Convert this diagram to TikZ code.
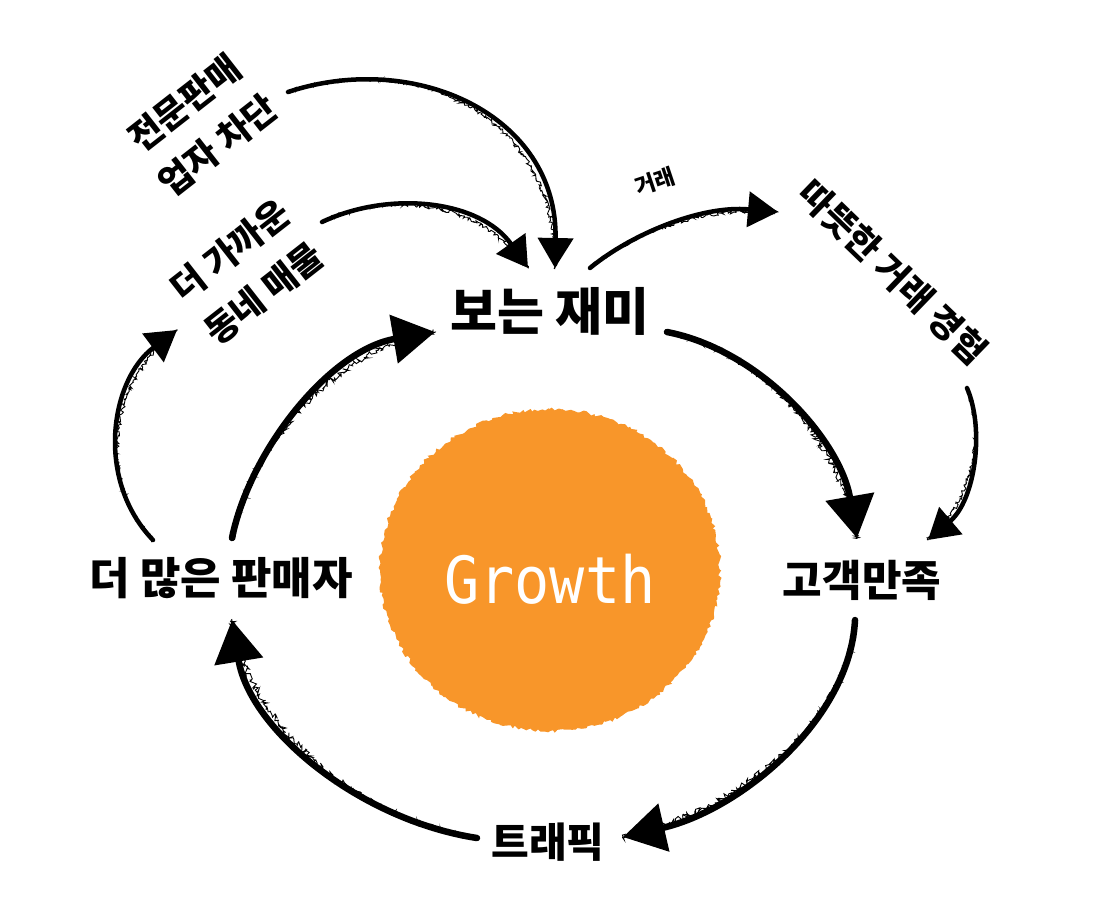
\documentclass[tikz,border=0pt]{standalone}
\usepackage{fontspec}
\newfontfamily\kr{Noto Sans CJK KR}
\newfontfamily\growthfont[FakeStretch=0.9]{DejaVu Sans Mono}
\usetikzlibrary{arrows.meta,decorations.pathmorphing,shapes.geometric}
\definecolor{growthorange}{RGB}{248,150,42}
\tikzset{
  mainlbl/.style={font=\kr\bfseries\fontsize{43}{50}\selectfont, inner sep=0pt},
  sidelbl/.style={font=\kr\bfseries\fontsize{35.5}{54}\selectfont, align=center, inner sep=0pt},
  rough/.style={postaction={draw, -, line width=0.9pt, decorate,
      decoration={random steps, segment length=1.4pt, amplitude=#1}}},
  thinarrow/.style={line width=4.5pt, line cap=round,
      -{Triangle[length=30pt,width=35pt]}, rough=1.9pt},
  thickarrow/.style={line width=6.5pt, line cap=round,
      -{Triangle[length=42pt,width=48pt]}, rough=2.9pt},
}
\begin{document}
\begin{tikzpicture}[x=1pt,y=-1pt]
\pgfmathsetseed{12}
\fill[white] (0,0) rectangle (1094,916);
\useasboundingbox (0,0) rectangle (1094,916);

% central circle
\node[ellipse, fill=growthorange, minimum width=340pt, minimum height=322pt,
      inner sep=0pt, decorate,
      decoration={random steps, segment length=3pt, amplitude=1.8pt}]
      (grow) at (550,570) {};
\node[font=\growthfont\fontsize{65}{70}\selectfont, text=white, inner sep=0pt]
      (growtxt) at (550,579) {Growth};

% labels
\node[mainlbl, font=\kr\bfseries\fontsize{51}{58}\selectfont] (bojae) at (550,311) {보는 재미};
\node[mainlbl] (gogaek) at (862,580) {고객만족};
\node[mainlbl, font=\kr\bfseries\fontsize{41}{48}\selectfont] (traffic) at (548,842) {트래픽};
\node[mainlbl, font=\kr\bfseries\fontsize{44}{50}\selectfont] (seller) at (221,578) {더 많은 판매자};
\node[sidelbl, rotate=38] (block) at (201,124) {전문판매\\업자 차단};
\node[sidelbl, rotate=38] (near) at (247,272) {더 가까운\\동네 매물};
\node[sidelbl, rotate=-44] (warm) at (893,272) {따뜻한 거래 경험};

% connectors
\draw[thinarrow] ([shift={(87,-32)}]block.center)
   .. controls (415,50) and (558,115) .. ([shift={(5,-43)}]bojae.center);
\draw[thinarrow] ([shift={(75,-50)}]near.center)
   .. controls (390,190) and (480,200) .. ([shift={(-22,-43)}]bojae.center);
\draw[thinarrow] ([shift={(40,-43)}]bojae.center)
   .. controls (630,235) and (700,205) .. ([shift={(-115,-60)}]warm.center)
   node[pos=0.5, sloped, above=33pt, font=\kr\bfseries\fontsize{22}{26}\selectfont, inner sep=0pt] (tradelbl) {거래};
\draw[thinarrow] ([shift={(74,116)}]warm.center)
   .. controls (985,430) and (975,500) .. ([shift={(66,-40)}]gogaek.center);
\draw[thickarrow] ([shift={(117,21)}]bojae.center)
   .. controls (760,350) and (840,440) .. ([shift={(-5,-42)}]gogaek.center);
\draw[thickarrow] ([shift={(-7,40)}]gogaek.center)
   .. controls (850,720) and (740,810) .. ([shift={(75,-5)}]traffic.center);
\draw[thickarrow] ([shift={(-71,-4)}]traffic.center)
   .. controls (360,820) and (250,730) .. ([shift={(11,42)}]seller.center);
\draw[thickarrow] ([shift={(11,-40)}]seller.center)
   .. controls (250,450) and (330,350) .. ([shift={(-115,21)}]bojae.center);
\draw[thinarrow] ([shift={(-68,-38)}]seller.center)
   .. controls (95,480) and (110,380) .. ([shift={(-70,58)}]near.center);
\end{tikzpicture}
\end{document}
